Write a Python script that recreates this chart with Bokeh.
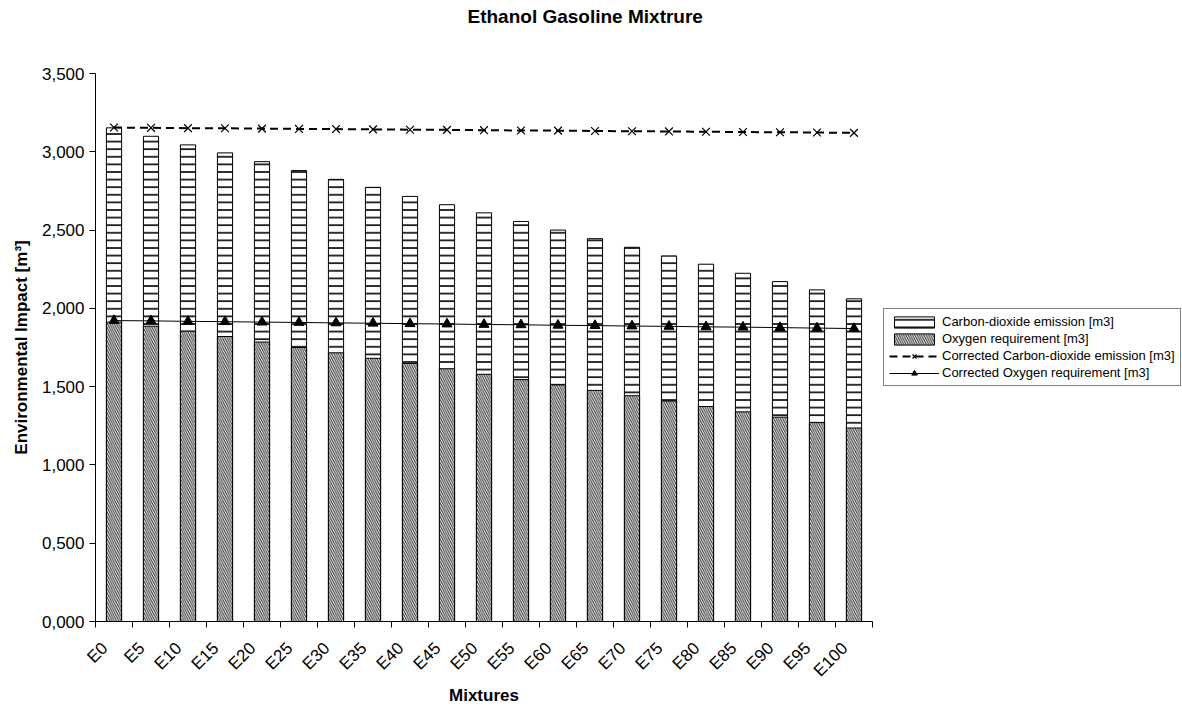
from math import pi
from bokeh.plotting import figure
from bokeh.models import (ColumnDataSource, FixedTicker, CustomJSTickFormatter, Legend,
                          LegendItem, Range1d, Title)
from bokeh.embed import file_html
from bokeh.resources import INLINE

mixtures = ["E0", "E5", "E10", "E15", "E20", "E25", "E30", "E35", "E40", "E45", "E50",
            "E55", "E60", "E65", "E70", "E75", "E80", "E85", "E90", "E95", "E100"]
co2_emission = [3.153, 3.099, 3.044, 2.993, 2.937, 2.880, 2.824, 2.773, 2.715, 2.662, 2.610,
                2.555, 2.500, 2.445, 2.390, 2.335, 2.282, 2.224, 2.171, 2.118, 2.061]
oxygen_requirement = [1.912, 1.886, 1.854, 1.820, 1.785, 1.750, 1.716, 1.681, 1.648, 1.614, 1.579,
                      1.545, 1.511, 1.476, 1.442, 1.408, 1.373, 1.339, 1.305, 1.270, 1.236]
corrected_co2 = [3.155, 3.153, 3.151, 3.150, 3.148, 3.146, 3.145, 3.143, 3.141, 3.140, 3.138,
                 3.136, 3.135, 3.133, 3.131, 3.130, 3.128, 3.126, 3.125, 3.123, 3.121]
corrected_oxygen = [1.922, 1.920, 1.917, 1.915, 1.912, 1.910, 1.907, 1.905, 1.902, 1.900, 1.897,
                    1.895, 1.892, 1.890, 1.887, 1.885, 1.882, 1.880, 1.877, 1.874, 1.871]
y_ticks = [0, 0.5, 1.0, 1.5, 2.0, 2.5, 3.0, 3.5]

idx = list(range(len(mixtures)))
src = ColumnDataSource(dict(x=idx, co2=co2_emission, o2=oxygen_requirement,
                            cco2=corrected_co2, co2c=corrected_oxygen))

FONT = "Liberation Sans"
LABEL_SHIFT = 0.25  # rotated labels sit slightly left of the category centre, as in Excel

p = figure(frame_width=777, frame_height=548, output_backend="svg", toolbar_location=None,
           x_range=Range1d(-0.5, len(mixtures) - 0.5), y_range=Range1d(0, 3.5),
           min_border_left=95, min_border_right=0, min_border_top=73, min_border_bottom=86)
p.outline_line_color = None
p.xgrid.grid_line_color = None
p.ygrid.grid_line_color = None

r_co2 = p.vbar(x="x", top="co2", width=0.41, source=src, fill_color="white",
               line_color="black", line_width=1,
               hatch_pattern="horizontal_line", hatch_color="black", hatch_scale=7.6,
               hatch_weight=1.6)
r_o2 = p.vbar(x="x", top="o2", width=0.41, source=src, fill_color="white",
              line_color="black", line_width=1,
              hatch_pattern="left_diagonal_line", hatch_color="#333333", hatch_scale=4.5,
              hatch_weight=1.1)

l_cco2 = p.line("x", "cco2", source=src, line_color="black", line_width=2, line_dash="8 5")
s_cco2 = p.scatter("x", "cco2", source=src, marker="x", size=11, line_color="black",
                   line_width=1.2)
l_co2c = p.line("x", "co2c", source=src, line_color="black", line_width=1)
s_co2c = p.scatter("x", "co2c", source=src, marker="triangle", size=10, fill_color="black",
                   line_color="black")

# axes
p.xaxis.ticker = FixedTicker(ticks=[i - LABEL_SHIFT for i in idx],
                             minor_ticks=[i - 0.5 for i in range(len(mixtures) + 1)])
p.xaxis.formatter = CustomJSTickFormatter(
    args=dict(labels=mixtures, shift=LABEL_SHIFT),
    code="const i = Math.round(tick + shift); return labels[i] ?? '';")
p.xaxis.major_label_orientation = pi / 4
p.xaxis.major_label_standoff = 18
p.xaxis.major_tick_in = 0
p.xaxis.major_tick_out = 0
p.xaxis.minor_tick_in = 0
p.xaxis.minor_tick_out = 6
p.xaxis.minor_tick_line_color = "black"
p.xaxis.axis_label = "Mixtures"
p.xaxis.axis_label_standoff = -4

p.yaxis.ticker = FixedTicker(ticks=y_ticks, minor_ticks=[])
p.yaxis.formatter = CustomJSTickFormatter(code="return tick.toFixed(3).replace('.', ',');")
p.yaxis.major_tick_in = 0
p.yaxis.major_tick_out = 6
p.yaxis.minor_tick_line_color = None
p.yaxis.axis_label = "Environmental Impact [m³]"
p.yaxis.axis_label_standoff = 8

for ax in (p.xaxis[0], p.yaxis[0]):
    ax.axis_line_color = "black"
    ax.major_tick_line_color = "black"
    ax.major_label_text_font = FONT
    ax.major_label_text_font_size = "17px"
    ax.major_label_text_color = "black"
    ax.axis_label_text_font = FONT
    ax.axis_label_text_font_size = "17px"
    ax.axis_label_text_font_style = "bold"
    ax.axis_label_text_color = "black"

# the figure title sits outermost; a spacer next to the frame lifts it to the top
p.title = Title(text="Ethanol Gasoline Mixtrure", text_font=FONT, text_font_size="19px",
                text_font_style="bold", text_color="black", align="left", offset=372,
                standoff=0)
p.add_layout(Title(text=" ", text_font_size="1px", standoff=44), "above")

legend = Legend(items=[
    LegendItem(label="Carbon-dioxide emission [m3]", renderers=[r_co2]),
    LegendItem(label="Oxygen requirement [m3]", renderers=[r_o2]),
    LegendItem(label="Corrected Carbon-dioxide emission [m3]", renderers=[l_cco2, s_cco2]),
    LegendItem(label="Corrected Oxygen requirement [m3]", renderers=[l_co2c, s_co2c]),
], location="center_left")
legend.label_text_font = FONT
legend.label_text_font_size = "13px"
legend.label_text_color = "black"
legend.glyph_width = 50
legend.glyph_height = 14
legend.label_height = 14
legend.spacing = 2
legend.padding = 5
legend.margin = 11
legend.label_standoff = 3
legend.border_line_color = "black"
legend.border_line_width = 1
p.add_layout(legend, "right")

open("out.html", "w").write(file_html(p, INLINE))
